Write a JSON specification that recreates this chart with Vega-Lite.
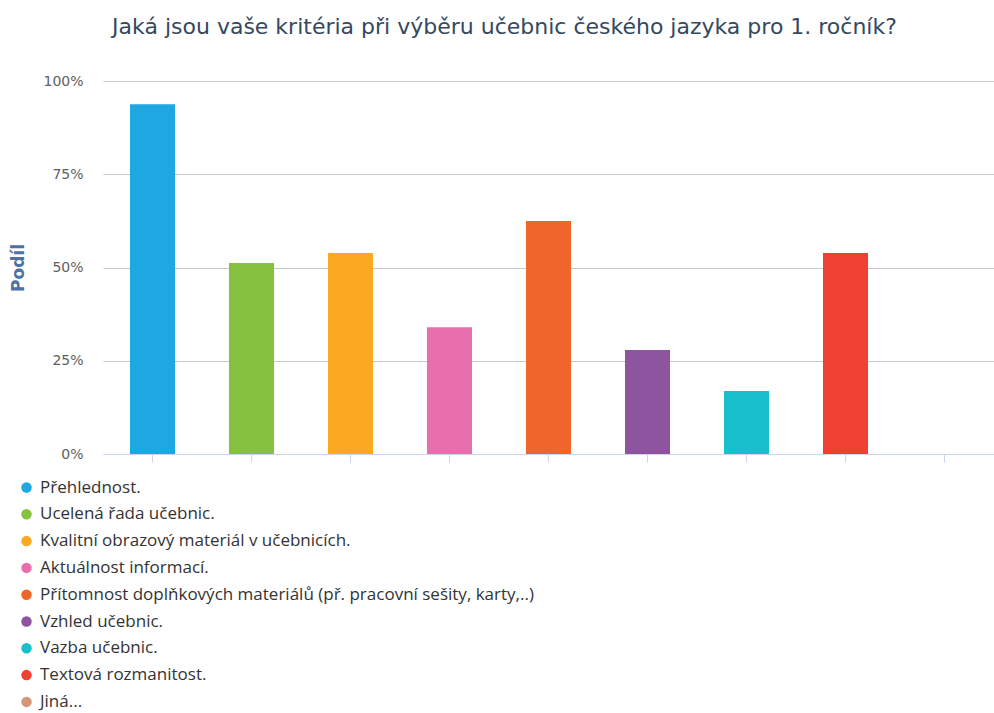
{
  "$schema": "https://vega.github.io/schema/vega-lite/v6.json",
  "width": 891,
  "height": 373,
  "autosize": "none",
  "padding": {"left": 103, "top": 81, "right": 0, "bottom": 259},
  "background": "white",
  "title": {
    "text": "Jaká jsou vaše kritéria při výběru učebnic českého jazyka pro 1. ročník?",
    "anchor": "middle",
    "frame": "group",
    "dx": -44,
    "offset": 35,
    "font": "DejaVu Sans",
    "fontSize": 22,
    "fontWeight": "normal",
    "color": "#34495e"
  },
  "data": {
    "values": [
      {"kriterium": "Přehlednost.", "podil": 0.938},
      {"kriterium": "Ucelená řada učebnic.", "podil": 0.512},
      {"kriterium": "Kvalitní obrazový materiál v učebnicích.", "podil": 0.539},
      {"kriterium": "Aktuálnost informací.", "podil": 0.340},
      {"kriterium": "Přítomnost doplňkových materiálů (př. pracovní sešity, karty,..)", "podil": 0.625},
      {"kriterium": "Vzhled učebnic.", "podil": 0.279},
      {"kriterium": "Vazba učebnic.", "podil": 0.169},
      {"kriterium": "Textová rozmanitost.", "podil": 0.539},
      {"kriterium": "Jiná...", "podil": 0}
    ]
  },
  "mark": {"type": "bar"},
  "encoding": {
    "x": {
      "field": "kriterium",
      "type": "nominal",
      "sort": null,
      "scale": {"paddingInner": 0.545, "paddingOuter": 0.2725},
      "axis": {
        "title": null,
        "labels": false,
        "domainColor": "#ccd6eb",
        "tickColor": "#ccd6eb",
        "tickSize": 8,
        "grid": false
      }
    },
    "y": {
      "field": "podil",
      "type": "quantitative",
      "scale": {"domain": [0, 1]},
      "axis": {
        "title": "Podíl",
        "format": ".0%",
        "values": [0, 0.25, 0.5, 0.75, 1],
        "domain": false,
        "ticks": false,
        "labelPadding": 20,
        "labelFont": "DejaVu Sans",
        "labelFontSize": 14,
        "labelColor": "#606060",
        "gridColor": "#c8c8c8",
        "gridWidth": 1,
        "titleFont": "DejaVu Sans",
        "titleFontSize": 17,
        "titleFontWeight": "bold",
        "titleColor": "#4d72a3",
        "titlePadding": 15
      }
    },
    "color": {
      "field": "kriterium",
      "type": "nominal",
      "sort": null,
      "scale": {
        "domain": [
          "Přehlednost.",
          "Ucelená řada učebnic.",
          "Kvalitní obrazový materiál v učebnicích.",
          "Aktuálnost informací.",
          "Přítomnost doplňkových materiálů (př. pracovní sešity, karty,..)",
          "Vzhled učebnic.",
          "Vazba učebnic.",
          "Textová rozmanitost.",
          "Jiná..."
        ],
        "range": ["#1ea7e1", "#86c240", "#fba922", "#e86fad", "#f0652a", "#8f54a0", "#19bfcd", "#ef4034", "#d6967a"]
      },
      "legend": {
        "title": null,
        "orient": "none",
        "legendX": -85,
        "legendY": 398,
        "direction": "vertical",
        "symbolType": "circle",
        "symbolSize": 110,
        "symbolStrokeWidth": 0,
        "symbolOpacity": 1,
        "labelFont": "Open Sans",
        "labelFontSize": 17,
        "labelColor": "#333333",
        "labelLimit": 700,
        "labelOffset": 5,
        "rowPadding": 8.8
      }
    }
  },
  "config": {"view": {"stroke": null}}
}
